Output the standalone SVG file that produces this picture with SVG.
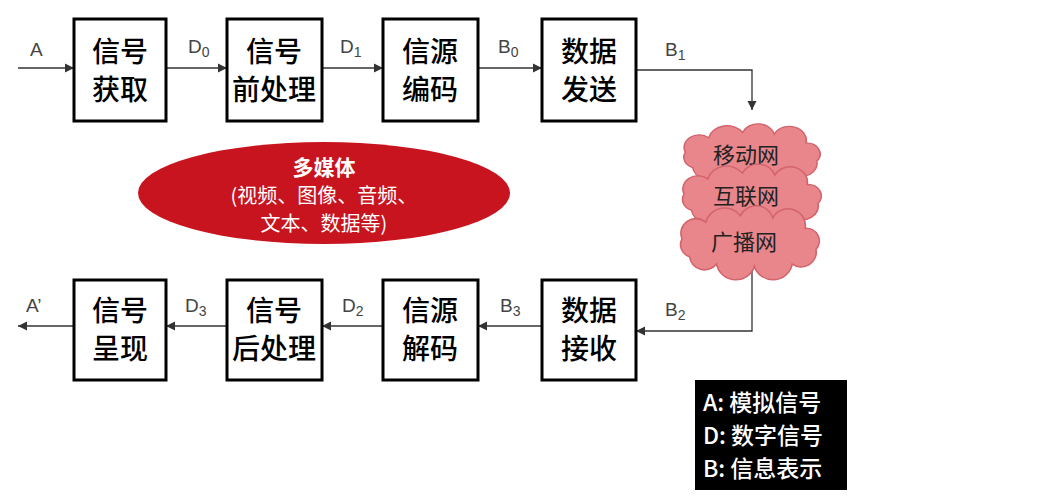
<svg xmlns="http://www.w3.org/2000/svg" width="1059" height="500" viewBox="0 0 1059 500">
<defs>
<style>
.box{fill:#fff;stroke:#000;stroke-width:3}
.bt{font-family:"Noto Sans CJK SC",sans-serif;font-size:28px;font-weight:500;fill:#000;text-anchor:middle}
.lb{font-family:"Liberation Sans","Noto Sans CJK SC",sans-serif;font-size:19px;fill:#444}
.ln{fill:none;stroke:#333;stroke-width:1.3}
.cl{fill:#e9868c;stroke:#d2646c;stroke-width:1.5}
.ct{font-family:"Noto Sans CJK SC",sans-serif;font-size:22px;fill:#222;text-anchor:middle}
.lg{font-family:"Noto Sans CJK SC",sans-serif;font-size:23px;font-weight:500;fill:#fff}
</style>
<marker id="ar" viewBox="0 0 10 10" refX="10" refY="5" markerWidth="7" markerHeight="7" orient="auto"><path d="M0,0 L10,5 L0,10 Z" fill="#333"/></marker>
<path id="cloud" d="M-55,15 A12 12 0 0 1 -62,-2 A14 14 0 0 1 -40,-18 A18 18 0 0 1 -8,-24 A16 16 0 0 1 22,-22 A16 16 0 0 1 52,-12 A12 12 0 0 1 62,8 A14 14 0 0 1 40,22 A18 18 0 0 1 5,24 A18 18 0 0 1 -30,22 A14 14 0 0 1 -55,15 Z"/>
</defs>
<rect width="1059" height="500" fill="#fff"/>
<g id="connectors">
<path class="ln" d="M18,68 H74" marker-end="url(#ar)"/>
<path class="ln" d="M166,68 H227" marker-end="url(#ar)"/>
<path class="ln" d="M322,68 H383" marker-end="url(#ar)"/>
<path class="ln" d="M478,68 H542" marker-end="url(#ar)"/>
<path class="ln" d="M636,70 H752 V110" marker-end="url(#ar)"/>
<path class="ln" d="M752,268 V331 H636" marker-end="url(#ar)"/>
<path class="ln" d="M542,326 H478" marker-end="url(#ar)"/>
<path class="ln" d="M383,326 H322" marker-end="url(#ar)"/>
<path class="ln" d="M227,326 H166" marker-end="url(#ar)"/>
<path class="ln" d="M74,326 H18" marker-end="url(#ar)"/>
<text class="lb" x="30" y="56">A</text>
<text class="lb" x="188" y="53">D<tspan font-size="14" dy="4">0</tspan></text>
<text class="lb" x="340" y="53">D<tspan font-size="14" dy="4">1</tspan></text>
<text class="lb" x="498" y="53">B<tspan font-size="14" dy="4">0</tspan></text>
<text class="lb" x="665" y="56">B<tspan font-size="14" dy="4">1</tspan></text>
<text class="lb" x="665" y="316">B<tspan font-size="14" dy="4">2</tspan></text>
<text class="lb" x="500" y="312">B<tspan font-size="14" dy="4">3</tspan></text>
<text class="lb" x="342" y="312">D<tspan font-size="14" dy="4">2</tspan></text>
<text class="lb" x="185" y="312">D<tspan font-size="14" dy="4">3</tspan></text>
<text class="lb" x="26" y="312">A’</text>
</g>
<g id="n1"><rect class="box" x="74" y="19" width="92" height="102"/><text class="bt" x="120" y="62">信号</text><text class="bt" x="120" y="100">获取</text></g>
<g id="n2"><rect class="box" x="227" y="19" width="95" height="102"/><text class="bt" x="274" y="62">信号</text><text class="bt" x="274" y="100">前处理</text></g>
<g id="n3"><rect class="box" x="383" y="19" width="95" height="102"/><text class="bt" x="430" y="62">信源</text><text class="bt" x="430" y="100">编码</text></g>
<g id="n4"><rect class="box" x="542" y="19" width="94" height="102"/><text class="bt" x="589" y="62">数据</text><text class="bt" x="589" y="100">发送</text></g>
<g id="n5"><rect class="box" x="542" y="280" width="94" height="100"/><text class="bt" x="589" y="321">数据</text><text class="bt" x="589" y="359">接收</text></g>
<g id="n6"><rect class="box" x="383" y="280" width="95" height="100"/><text class="bt" x="430" y="321">信源</text><text class="bt" x="430" y="359">解码</text></g>
<g id="n7"><rect class="box" x="227" y="280" width="95" height="100"/><text class="bt" x="274" y="321">信号</text><text class="bt" x="274" y="359">后处理</text></g>
<g id="n8"><rect class="box" x="74" y="280" width="92" height="100"/><text class="bt" x="120" y="321">信号</text><text class="bt" x="120" y="359">呈现</text></g>
<g id="media">
<ellipse cx="324" cy="193" rx="186" ry="51" fill="#c8141e"/>
<text x="324" y="175" text-anchor="middle" font-family="Noto Sans CJK SC,sans-serif" font-size="21" font-weight="bold" fill="#fff">多媒体</text>
<text x="324" y="203" text-anchor="middle" font-family="Noto Sans CJK SC,sans-serif" font-size="20" fill="#fff">(视频、图像、音频、</text>
<text x="324" y="231" text-anchor="middle" font-family="Noto Sans CJK SC,sans-serif" font-size="20" fill="#fff">文本、数据等)</text>
</g>
<g id="networks">
<use href="#cloud" class="cl" transform="translate(751,154) scale(1.06,0.9)"/>
<text class="ct" x="746" y="163">移动网</text>
<use href="#cloud" class="cl" transform="translate(751,196) scale(1.08,0.95)"/>
<text class="ct" x="746" y="204">互联网</text>
<use href="#cloud" class="cl" transform="translate(749,241) scale(1.08,1.05)"/>
<text class="ct" x="744" y="250">广播网</text>
</g>
<g id="legend">
<rect x="695" y="380" width="152" height="110" fill="#000"/>
<text class="lg" x="703" y="411">A: 模拟信号</text>
<text class="lg" x="703" y="444">D: 数字信号</text>
<text class="lg" x="703" y="477">B: 信息表示</text>
</g>
</svg>
